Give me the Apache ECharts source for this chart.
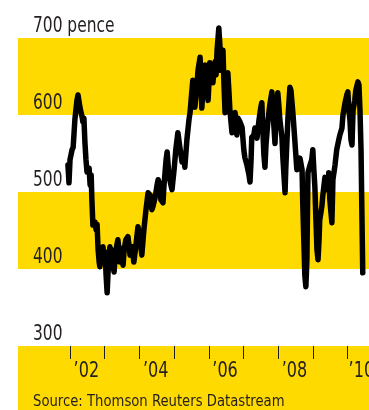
<!DOCTYPE html>
<html>
<head>
<meta charset="utf-8">
<script src="https://cdn.jsdelivr.net/npm/echarts@6/dist/echarts.min.js"></script>
<style>
html,body{margin:0;padding:0;background:#fff;}
#c{width:369px;height:410px;}
</style>
</head>
<body>
<div id="c"></div>
<script>
// Share price, pence (decimal year -> price)
const years = [
2001.94,2001.97,2002.00,2002.06,2002.09,2002.14,2002.20,2002.23,2002.29,2002.35,2002.37,2002.40,2002.43,2002.46,2002.49,2002.55,2002.58,2002.61,2002.63,2002.66,
2002.72,2002.75,2002.78,2002.81,2002.84,2002.86,2002.89,2002.92,2002.95,2002.98,2003.01,2003.04,2003.07,2003.10,2003.12,2003.15,2003.18,2003.21,2003.24,2003.27,
2003.30,2003.35,2003.38,2003.44,2003.47,2003.53,2003.56,2003.61,2003.67,2003.73,2003.79,2003.84,2003.87,2003.90,2003.96,2004.02,2004.07,2004.10,2004.13,2004.19,
2004.25,2004.31,2004.36,2004.39,2004.45,2004.51,2004.54,2004.59,2004.62,2004.68,2004.71,2004.77,2004.80,2004.85,2004.91,2004.94,2005.00,2005.05,2005.11,2005.17,
2005.23,2005.29,2005.31,2005.37,2005.43,2005.46,2005.49,2005.54,2005.57,2005.60,2005.66,2005.69,2005.75,2005.78,2005.80,2005.83,2005.89,2005.92,2005.98,2006.01,
2006.03,2006.09,2006.12,2006.15,2006.18,2006.21,2006.24,2006.29,2006.32,2006.35,2006.38,2006.41,2006.44,2006.47,2006.50,2006.55,2006.58,2006.61,2006.67,2006.70,
2006.76,2006.78,2006.81,2006.84,2006.90,2006.96,2007.01,2007.04,2007.10,2007.16,2007.19,2007.22,2007.24,2007.30,2007.33,2007.39,2007.45,2007.50,2007.53,2007.56,
2007.59,2007.62,2007.65,2007.71,2007.76,2007.82,2007.85,2007.91,2007.94,2007.99,2008.02,2008.05,2008.11,2008.14,2008.20,2008.22,2008.28,2008.34,2008.37,2008.43,
2008.48,2008.54,2008.60,2008.63,2008.69,2008.71,2008.74,2008.77,2008.80,2008.83,2008.86,2008.92,2008.97,2009.00,2009.03,2009.06,2009.09,2009.12,2009.15,2009.18,
2009.20,2009.26,2009.29,2009.35,2009.38,2009.44,2009.46,2009.49,2009.55,2009.58,2009.64,2009.69,2009.75,2009.78,2009.84,2009.87,2009.93,2009.98,2010.01,2010.04,
2010.07,2010.10,2010.13,2010.16,2010.21,2010.24,2010.30,2010.33,2010.36,2010.39,2010.41,2010.44
];
const prices = [
535,512,542,555,558,594,619,626,609,597,591,596,564,542,526,531,509,522,490,457,
461,451,458,425,409,403,418,409,429,414,422,392,369,399,412,429,409,425,403,396,
414,431,438,409,427,405,425,438,442,418,429,409,408,431,455,438,418,416,451,477,
499,496,477,481,492,509,516,509,490,486,509,542,552,522,509,503,529,555,577,557,
539,542,532,568,594,603,619,645,630,610,639,658,675,639,609,632,665,648,619,645,
668,652,642,658,669,652,684,713,691,658,674,684,639,603,626,655,632,606,577,596,
603,587,574,596,591,584,555,545,535,522,513,542,571,574,583,570,594,610,616,580,
548,532,561,594,613,630,606,563,600,629,613,594,571,542,499,529,594,636,632,600,
568,529,531,544,529,486,438,392,377,412,525,535,542,555,529,506,464,425,412,438,
464,481,496,519,503,506,525,490,460,516,535,555,568,574,583,600,616,626,630,606,
594,568,561,606,619,632,643,639,606,555,490,395
];
const yTicks = [300, 400, 500, 600, 700];
const tickYears = [2002, 2003, 2004, 2005, 2006, 2007, 2008, 2009, 2010];
const labelYears = [2002, 2004, 2006, 2008, 2010];
const xLabels = ['\u201902', '\u201904', '\u201906', '\u201908', '\u201910'];
const unitLabel = '700 pence';
const sourceText = 'Source: Thomson Reuters Datastream';

const FONT = '"Liberation Sans Narrow", "DejaVu Sans Condensed", sans-serif';
const YELLOW = '#FFDA00';
const INK = '#231f20';

const chart = echarts.init(document.getElementById('c'), null, {renderer: 'canvas'});
chart.setOption({
  animation: false,
  backgroundColor: '#fff',
  grid: {left: 18, right: 0, top: 38, bottom: 64, containLabel: false, outerBoundsMode: 'none'},
  xAxis: {
    type: 'value',
    min: 2000.5,
    max: 2010.62,
    axisLine: {show: false},
    splitLine: {show: false},
    axisTick: {show: true, customValues: tickYears, length: 13, lineStyle: {color: INK, width: 1}},
    axisLabel: {show: false}
  },
  yAxis: {
    type: 'value',
    min: yTicks[0],
    max: yTicks[yTicks.length - 1],
    interval: 100,
    axisLine: {show: false},
    axisTick: {show: false},
    splitLine: {show: false},
    splitArea: {show: true, areaStyle: {color: ['rgba(255,255,255,0)', YELLOW]}},
    axisLabel: {show: false}
  },
  series: [{
    type: 'line',
    data: years.map((y, i) => [y, prices[i]]),
    showSymbol: false,
    clip: false,
    lineStyle: {color: '#000', width: 5.5, join: 'round', cap: 'round'},
    z: 5
  }]
});

// Axis labels drawn as condensed text, positioned through the chart's own scales
const gridBottom = chart.convertToPixel({yAxisIndex: 0}, yTicks[0]);
const graphics = [
  {type: 'rect', z: -10, silent: true, shape: {x: 18, y: gridBottom, width: 351, height: 410 - gridBottom}, style: {fill: YELLOW}}
];
yTicks.forEach(v => {
  const py = chart.convertToPixel({yAxisIndex: 0}, v);
  graphics.push({
    type: 'text', z: 10, x: 33, y: py - 12, scaleX: 0.78,
    style: {text: v === yTicks[yTicks.length - 1] ? unitLabel : String(v), fill: INK, font: '22px ' + FONT, verticalAlign: 'middle', align: 'left'}
  });
});
labelYears.forEach((yr, i) => {
  const pos = yr + (i === labelYears.length - 1 ? 0.4 : 0.47);
  const px = chart.convertToPixel({xAxisIndex: 0}, pos);
  graphics.push({
    type: 'text', z: 10, x: px, y: gridBottom + 26, scaleX: 0.85,
    style: {text: xLabels[i], fill: INK, font: '21px ' + FONT, verticalAlign: 'middle', align: 'center'}
  });
});
graphics.push({
  type: 'text', z: 10, x: 33, y: 402, scaleX: 0.89,
  style: {text: sourceText, fill: INK, font: '16.5px ' + FONT, verticalAlign: 'middle', align: 'left'}
});
chart.setOption({graphic: graphics});
</script>
</body>
</html>
